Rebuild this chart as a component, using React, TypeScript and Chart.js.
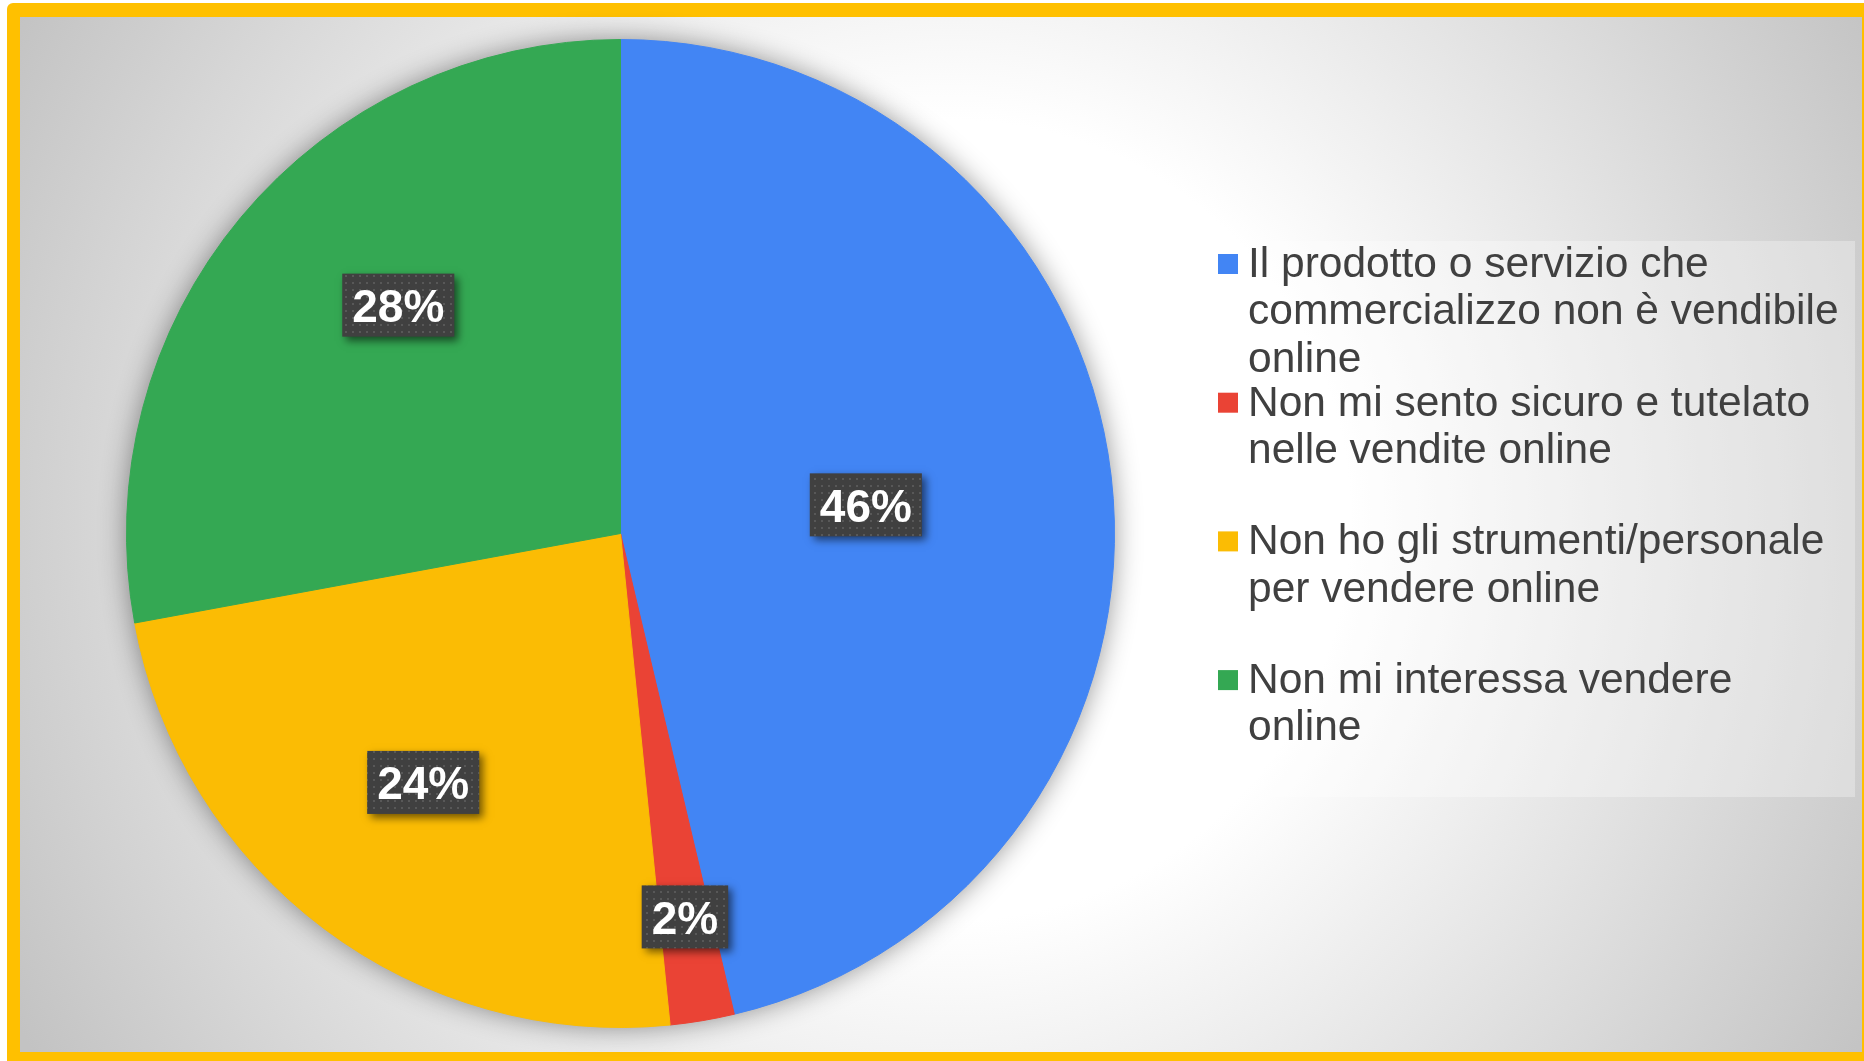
import React, { useEffect, useRef } from "react";
import { Chart, registerables } from "chart.js";

Chart.register(...registerables);

// ---- data ----
const categories = [
  "Il prodotto o servizio che commercializzo non è vendibile online",
  "Non mi sento sicuro e tutelato nelle vendite online",
  "Non ho gli strumenti/personale per vendere online",
  "Non mi interessa vendere online",
];
const shares = [46.3, 2.1, 23.7, 27.9];
const colors = ["#4285F4", "#EA4335", "#FBBC04", "#34A853"];

// label placement (fraction of radius, extra angle in degrees)
const labelRadius = [0.5, 0.787, 0.643, 0.645];
const labelAngleShift = [0, 0, 1.5, 6];

const W = 1864;
const H = 1061;
const FONT = "'Liberation Sans', Arial, sans-serif";

function wrap(ctx: CanvasRenderingContext2D, text: string, maxW: number): string[] {
  const words = text.split(" ");
  const lines: string[] = [];
  let cur = "";
  for (const w of words) {
    const test = cur ? cur + " " + w : w;
    if (cur && ctx.measureText(test).width > maxW) {
      lines.push(cur);
      cur = w;
    } else cur = test;
  }
  if (cur) lines.push(cur);
  return lines;
}

function makePattern(ctx: CanvasRenderingContext2D) {
  const c = document.createElement("canvas");
  c.width = 7;
  c.height = 7;
  const p = c.getContext("2d")!;
  p.fillStyle = "rgba(255,255,255,0.13)";
  p.fillRect(2, 2, 2, 2);
  return ctx.createPattern(c, "repeat");
}

const framePlugin = {
  id: "frame",
  beforeDraw(chart: any) {
    const ctx: CanvasRenderingContext2D = chart.ctx;
    ctx.save();
    ctx.fillStyle = "#ffffff";
    ctx.fillRect(0, 0, W, H);
    // yellow frame
    ctx.fillStyle = "#FFC000";
    ctx.beginPath();
    (ctx as any).roundRect(7, 3, W + 20, H + 20, 6);
    ctx.fill();
    // background gradient
    const g = ctx.createRadialGradient(950, 520, 0, 950, 520, 1060);
    g.addColorStop(0, "#ffffff");
    g.addColorStop(400 / 1060, "#ffffff");
    g.addColorStop(1, "#c3c3c3");
    ctx.fillStyle = g;
    ctx.fillRect(20, 17, 1842, 1035);
    // legend box
    ctx.fillStyle = "rgba(255,255,255,0.3)";
    ctx.fillRect(1198, 241, 657, 556);
    ctx.restore();
  },
  beforeDatasetsDraw(chart: any) {
    const ctx: CanvasRenderingContext2D = chart.ctx;
    const arc = chart.getDatasetMeta(0).data[0];
    if (!arc) return;
    const { x, y, outerRadius } = arc.getProps(["x", "y", "outerRadius"], true);
    ctx.save();
    ctx.shadowColor = "rgba(0,0,0,0.45)";
    ctx.shadowBlur = 28;
    ctx.fillStyle = colors[0];
    ctx.beginPath();
    ctx.arc(x, y, outerRadius - 1, 0, Math.PI * 2);
    ctx.fill();
    ctx.restore();
  },
  afterDatasetsDraw(chart: any) {
    const ctx: CanvasRenderingContext2D = chart.ctx;
    const meta = chart.getDatasetMeta(0);
    const total = shares.reduce((a, b) => a + b, 0);
    const pattern = makePattern(ctx);
    ctx.save();
    ctx.font = `bold 46px ${FONT}`;
    meta.data.forEach((arc: any, i: number) => {
      const p = arc.getProps(["x", "y", "startAngle", "endAngle", "outerRadius"], true);
      const mid = (p.startAngle + p.endAngle) / 2 + (labelAngleShift[i] * Math.PI) / 180;
      const r = p.outerRadius * labelRadius[i];
      const cx = p.x + Math.cos(mid) * r;
      const cy = p.y + Math.sin(mid) * r;
      const text = Math.round((shares[i] / total) * 100) + "%";
      const tw = ctx.measureText(text).width;
      const bw = tw + 20;
      const bh = 63;
      ctx.save();
      ctx.shadowColor = "rgba(0,0,0,0.55)";
      ctx.shadowBlur = 8;
      ctx.shadowOffsetX = 4;
      ctx.shadowOffsetY = 4;
      ctx.fillStyle = "#404040";
      ctx.fillRect(cx - bw / 2, cy - bh / 2, bw, bh);
      ctx.restore();
      if (pattern) {
        ctx.fillStyle = pattern;
        ctx.fillRect(cx - bw / 2, cy - bh / 2, bw, bh);
      }
      ctx.fillStyle = "#ffffff";
      ctx.textAlign = "center";
      ctx.textBaseline = "alphabetic";
      ctx.fillText(text, cx, cy + 17);
    });
    ctx.restore();
  },
  afterDraw(chart: any) {
    const ctx: CanvasRenderingContext2D = chart.ctx;
    ctx.save();
    ctx.font = `42.5px ${FONT}`;
    ctx.textAlign = "left";
    ctx.textBaseline = "alphabetic";
    categories.forEach((cat, i) => {
      const y0 = 264 + i * 138.7;
      ctx.fillStyle = colors[i];
      ctx.fillRect(1218, y0 - 10, 20, 20);
      ctx.fillStyle = "#404040";
      const lines = wrap(ctx, cat, 600);
      lines.forEach((ln, j) => {
        ctx.fillText(ln, 1248, y0 + j * 47.3 + 13);
      });
    });
    ctx.restore();
  },
};

export default function App() {
  const ref = useRef<HTMLCanvasElement | null>(null);
  useEffect(() => {
    document.body.style.margin = "0";
    document.body.style.overflow = "hidden";
    const canvas = ref.current!;
    const chart = new Chart(canvas, {
      type: "pie",
      data: {
        labels: categories,
        datasets: [
          {
            data: shares,
            backgroundColor: colors,
            borderColor: colors,
            borderWidth: 1,
          },
        ],
      },
      options: {
        responsive: false,
        animation: false,
        devicePixelRatio: 1,
        layout: { padding: { top: 39, bottom: 33, left: 126, right: 749 } },
        plugins: {
          legend: { display: false },
          tooltip: { enabled: false },
        },
        events: [],
      },
      plugins: [framePlugin as any],
    });
    return () => chart.destroy();
  }, []);
  return (
    <canvas
      ref={ref}
      width={W}
      height={H}
      style={{ display: "block", width: W, height: H }}
    />
  );
}
